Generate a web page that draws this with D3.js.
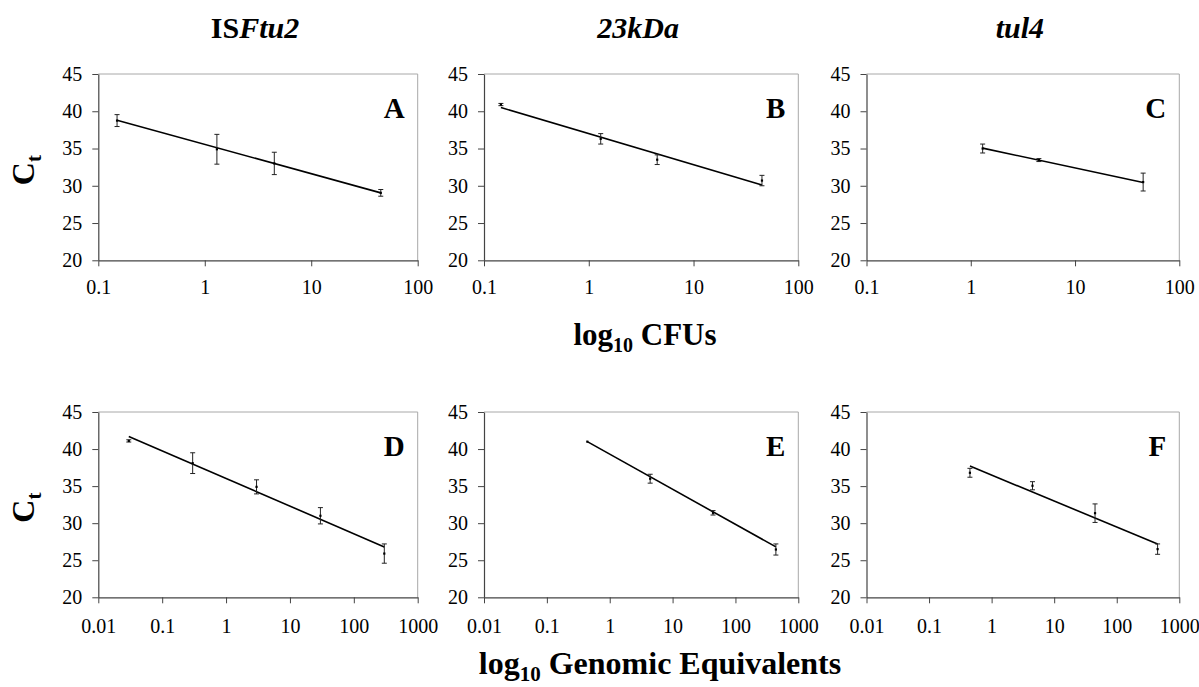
<!DOCTYPE html>
<html>
<head>
<meta charset="utf-8">
<script src="https://cdn.jsdelivr.net/npm/d3@7/dist/d3.min.js"></script>
<style>
  html, body { margin: 0; padding: 0; background: #fff; }
  svg { display: block; }
  text { font-family: "Liberation Serif", "Times New Roman", serif; fill: #000; }
</style>
</head>
<body>
<svg id="chart" width="1199" height="687"></svg>
<script>
// ---------------- data ----------------
const panelLetters = ["A", "B", "C", "D", "E", "F"];
const titleRoman = ["IS", "", ""];
const titleItalic = ["Ftu2", "23kDa", "tul4"];
const xLabelTop = "CFUs";
const xLabelBottom = "Genomic Equivalents";
const yLabel = "C";
const yLabelSub = "t";

const cfuTicks = [0.1, 1, 10, 100];
const geTicks = [0.01, 0.1, 1, 10, 100, 1000];
const ctTicks = [20, 25, 30, 35, 40, 45];

// Panel A: ISFtu2 vs CFUs
const aX = [0.15, 1.3, 4.5, 45];
const aCt = [38.75, 34.9, 33.0, 29.05];
const aErr = [0.8, 2.0, 1.5, 0.45];
const aFit = [38.8, 29.05];
// Panel B: 23kDa vs CFUs
const bX = [0.145, 1.3, 4.5, 45];
const bCt = [40.9, 36.3, 33.5, 30.7];
const bErr = [0.15, 0.7, 0.65, 0.7];
const bFit = [40.5, 30.1];
// Panel C: tul4 vs CFUs
const cX = [1.3, 4.5, 45];
const cCt = [35.0, 33.45, 30.5];
const cErr = [0.6, 0.2, 1.2];
const cFit = [35.05, 30.45];
// Panel D: ISFtu2 vs genomic equivalents
const dX = [0.03, 0.3, 3, 30, 300];
const dCt = [41.1, 38.1, 34.9, 31.0, 25.9];
const dErr = [0.15, 1.4, 0.95, 1.1, 1.3];
const dFit = [41.7, 26.8];
// Panel E: 23kDa vs genomic equivalents
const eX = [0.44, 4.4, 44, 440];
const eCt = [41.0, 36.0, 31.4, 26.45];
const eErr = [0.0, 0.6, 0.3, 0.75];
const eFit = [41.0, 26.8];
// Panel F: tul4 vs genomic equivalents
const fX = [0.45, 4.5, 45, 450];
const fCt = [36.8, 35.05, 31.35, 26.5];
const fErr = [0.6, 0.55, 1.25, 0.7];
const fFit = [37.7, 27.2];

// ---------------- layout ----------------
const svg = d3.select("#chart");
const colLeft = [98.3, 484, 866.5];
const colRight = [417.7, 798.3, 1179.3];
const rowTop = [74, 412];
const rowBottom = [260.3, 597.3];

const series = [
  { x: aX, y: aCt, e: aErr, fit: aFit },
  { x: bX, y: bCt, e: bErr, fit: bFit },
  { x: cX, y: cCt, e: cErr, fit: cFit },
  { x: dX, y: dCt, e: dErr, fit: dFit },
  { x: eX, y: eCt, e: eErr, fit: eFit },
  { x: fX, y: fCt, e: fErr, fit: fFit }
];

series.forEach((s, i) => {
  const row = Math.floor(i / 3), col = i % 3;
  const ticks = row === 0 ? cfuTicks : geTicks;
  const x = d3.scaleLog()
    .domain([ticks[0], ticks[ticks.length - 1]])
    .range([colLeft[col], colRight[col]]);
  const y = d3.scaleLinear()
    .domain([ctTicks[0], ctTicks[ctTicks.length - 1]])
    .range([rowBottom[row], rowTop[row]]);

  const g = svg.append("g");

  // frame (top & right, light gray)
  g.append("path")
    .attr("d", `M${x.range()[0]},${y.range()[1]}H${x.range()[1]}V${y.range()[0]}`)
    .attr("fill", "none")
    .attr("stroke", "#a8a8a8")
    .attr("stroke-width", 1);

  // x axis
  const xa = g.append("g")
    .attr("transform", `translate(0,${y.range()[0]})`)
    .call(d3.axisBottom(x).tickValues(ticks).tickFormat(d3.format("~g")).tickSizeInner(6).tickSizeOuter(0).tickPadding(row === 0 ? 14 : 16));
  // y axis
  const ya = g.append("g")
    .attr("transform", `translate(${x.range()[0]},0)`)
    .call(d3.axisLeft(y).tickValues(ctTicks).tickSizeInner(6).tickSizeOuter(0).tickPadding(10));

  [xa, ya].forEach(a => {
    a.select(".domain").attr("stroke", "#444").attr("stroke-width", 1.2);
    a.selectAll(".tick line").attr("stroke", "#444").attr("stroke-width", 1);
    a.selectAll(".tick text")
      .style("font-family", '"Liberation Serif", "Times New Roman", serif')
      .style("font-size", "20px")
      .attr("fill", "#000");
  });

  // fit line
  g.append("line")
    .attr("x1", x(s.x[0])).attr("y1", y(s.fit[0]))
    .attr("x2", x(s.x[s.x.length - 1])).attr("y2", y(s.fit[1]))
    .attr("stroke", "#000").attr("stroke-width", 1.6);

  // error bars
  const pts = s.x.map((xv, k) => ({ x: xv, y: s.y[k], e: s.e[k] }));
  const eb = g.selectAll(".eb").data(pts).enter().append("g");
  eb.append("line")
    .attr("x1", d => x(d.x)).attr("x2", d => x(d.x))
    .attr("y1", d => y(d.y + d.e)).attr("y2", d => y(d.y - d.e))
    .attr("stroke", "#222").attr("stroke-width", 1);
  eb.filter(d => d.e > 0.1).append("line")
    .attr("x1", d => x(d.x) - 2.5).attr("x2", d => x(d.x) + 2.5)
    .attr("y1", d => y(d.y + d.e)).attr("y2", d => y(d.y + d.e))
    .attr("stroke", "#222").attr("stroke-width", 1);
  eb.filter(d => d.e > 0.1).append("line")
    .attr("x1", d => x(d.x) - 2.5).attr("x2", d => x(d.x) + 2.5)
    .attr("y1", d => y(d.y - d.e)).attr("y2", d => y(d.y - d.e))
    .attr("stroke", "#222").attr("stroke-width", 1);
  eb.append("rect")
    .attr("x", d => x(d.x) - 1.1).attr("y", d => y(d.y) - 1.1)
    .attr("width", 2.2).attr("height", 2.2)
    .attr("fill", "#000");

  // panel letter
  g.append("text")
    .attr("x", x.range()[1] - 13)
    .attr("y", y.range()[1] + 44)
    .attr("text-anchor", "end")
    .style("font-size", "29px")
    .style("font-weight", "bold")
    .text(panelLetters[i]);
});

// column titles
[0, 1, 2].forEach(c => {
  const t = svg.append("text")
    .attr("x", (colLeft[c] + colRight[c]) / 2 - 3)
    .attr("y", 38)
    .attr("text-anchor", "middle")
    .style("font-size", "30px")
    .style("font-weight", "bold");
  if (titleRoman[c]) t.append("tspan").text(titleRoman[c]);
  t.append("tspan").style("font-style", "italic").text(titleItalic[c]);
});

// y labels (Ct), rotated
[0, 1].forEach(r => {
  const cy = (rowTop[r] + rowBottom[r]) / 2 + 3;
  const t = svg.append("text")
    .attr("transform", `translate(34,${cy}) rotate(-90)`)
    .attr("text-anchor", "middle")
    .style("font-size", "32px")
    .style("font-weight", "bold");
  t.append("tspan").text(yLabel);
  t.append("tspan").attr("dy", 7).style("font-size", "21px").text(yLabelSub);
});

// x labels
function xLabel(text, cx, by, fs) {
  const t = svg.append("text")
    .attr("x", cx).attr("y", by)
    .attr("text-anchor", "middle")
    .style("font-size", fs + "px")
    .style("font-weight", "bold");
  t.append("tspan").text("log");
  t.append("tspan").attr("dy", 7).style("font-size", Math.round(fs * 0.66) + "px").text("10");
  t.append("tspan").attr("dy", -7).text(" " + text);
}
xLabel(xLabelTop, 645, 345, 31);
xLabel(xLabelBottom, 660, 674, 32);
</script>
</body>
</html>
